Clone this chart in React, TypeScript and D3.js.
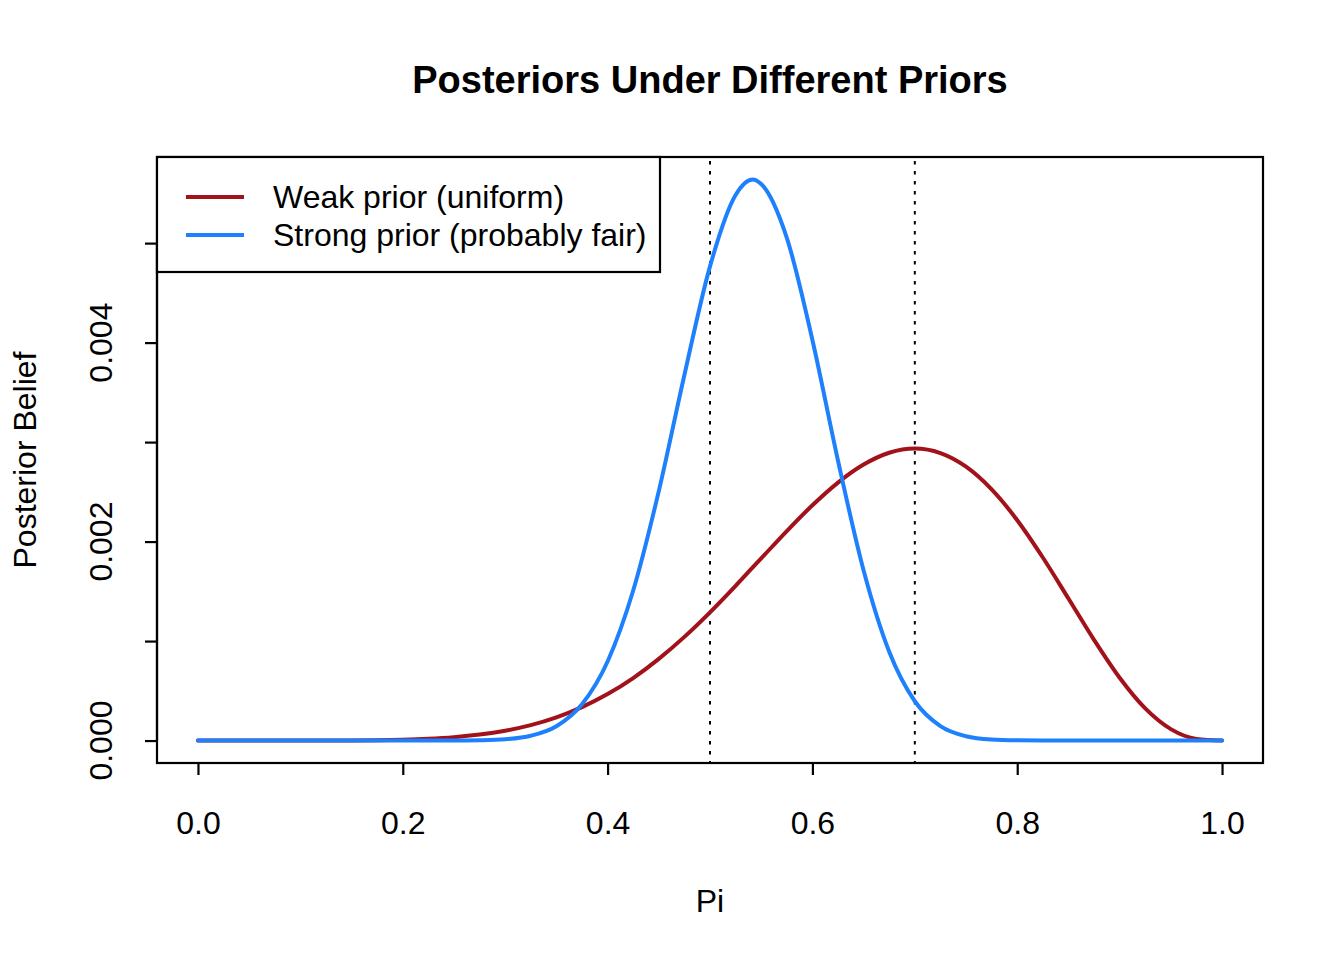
import React, { useEffect, useRef } from 'react';
import * as d3 from 'd3';

// grid of Pi values the posteriors were read at
const piGrid = [
    0, 0.025, 0.05, 0.075, 0.1, 0.125, 0.15, 0.175, 0.2, 0.225, 0.25, 0.275, 0.3, 0.325, 0.35,
    0.375, 0.4, 0.425, 0.45, 0.475, 0.5, 0.525, 0.5417, 0.55, 0.575, 0.6, 0.625, 0.65, 0.675,
    0.7, 0.725, 0.75, 0.775, 0.8, 0.825, 0.85, 0.875, 0.9, 0.925, 0.95, 0.975, 1
];

const weakPosterior = [
    0, 0, 0, 0, 0.0000001, 0.0000004, 0.0000014, 0.0000037, 0.0000087, 0.000018, 0.000034, 0.00006,
    0.000099, 0.000155, 0.000233, 0.000336, 0.000467, 0.000628, 0.000821, 0.001042, 0.001289,
    0.001555, 0.00174, 0.001831, 0.002106, 0.002365, 0.002593, 0.002774, 0.002893, 0.002935,
    0.00289, 0.002753, 0.002525, 0.002215, 0.00184, 0.001428, 0.001012, 0.000631, 0.000323,
    0.000115, 0.000017, 0
];

const strongPosterior = [
    0, 0, 0, 0, 0, 0, 0, 0, 0, 0, 0, 0.000003, 0.000013, 0.000048, 0.000144, 0.000365, 0.000795,
    0.001508, 0.002507, 0.003675, 0.004766, 0.005484, 0.00564, 0.005594, 0.005053, 0.004026,
    0.002813, 0.00171, 0.000893, 0.000395, 0.000145, 0.000043, 0.00001, 0.000002, 0, 0, 0, 0, 0,
    0, 0, 0
];

const xTicks = [0, 0.2, 0.4, 0.6, 0.8, 1.0];
const yTicks = [0, 0.001, 0.002, 0.003, 0.004, 0.005];
const yLabelled = [0, 0.002, 0.004];
const guideLines = [0.5, 0.7];

const seriesNames = ['Weak prior (uniform)', 'Strong prior (probably fair)'];
const seriesColors = ['#A1121B', '#1E80FC'];

const PosteriorChart: React.FC = () => {
    const chartRef = useRef<SVGSVGElement>(null);

    useEffect(() => {
        const svg = d3.select(chartRef.current);
        svg.selectAll("*").remove();

        const font = "'Liberation Sans', Arial, Helvetica, sans-serif";
        const box = { left: 157, right: 1263, top: 157, bottom: 763 };

        // R style 4% padding on both axes
        const yMax = d3.max(strongPosterior) as number;
        const x = d3.scaleLinear().domain([-0.04, 1.04]).range([box.left, box.right]);
        const y = d3.scaleLinear().domain([-0.04 * yMax, 1.04 * yMax]).range([box.bottom, box.top]);

        svg.append("text")
            .attr("x", (box.left + box.right) / 2)
            .attr("y", 93)
            .attr("text-anchor", "middle")
            .attr("font-family", font)
            .attr("font-weight", "bold")
            .attr("font-size", 38)
            .text("Posteriors Under Different Priors");

        // dotted reference lines
        svg.append("g")
            .selectAll("line")
            .data(guideLines)
            .enter().append("line")
            .attr("x1", d => x(d))
            .attr("x2", d => x(d))
            .attr("y1", box.top + 4)
            .attr("y2", box.bottom)
            .attr("stroke", "#000")
            .attr("stroke-width", 2)
            .attr("stroke-dasharray", "3.5,6.5");

        const line = d3.line<number>()
            .x((_, i) => x(piGrid[i]))
            .y(d => y(d))
            .curve(d3.curveMonotoneX);

        [weakPosterior, strongPosterior].forEach((values, i) => {
            svg.append("path")
                .attr("d", line(values))
                .attr("fill", "none")
                .attr("stroke", seriesColors[i])
                .attr("stroke-width", 4)
                .attr("stroke-linecap", "round")
                .attr("stroke-linejoin", "round");
        });

        // plot box
        svg.append("rect")
            .attr("x", box.left)
            .attr("y", box.top)
            .attr("width", box.right - box.left)
            .attr("height", box.bottom - box.top)
            .attr("fill", "none")
            .attr("stroke", "#000")
            .attr("stroke-width", 2.2);

        // x axis
        const xAxis = svg.append("g").attr("transform", `translate(0,${box.bottom})`)
            .call(d3.axisBottom(x).tickValues(xTicks).tickSize(12).tickPadding(36)
                .tickFormat(d => d3.format(".1f")(d as number)));
        xAxis.select(".domain").attr("d", `M${x(0)},0H${x(1)}`).attr("stroke-width", 2.2);
        xAxis.selectAll(".tick line").attr("stroke-width", 2.2);
        xAxis.selectAll("text").attr("font-family", font).attr("font-size", 32).attr("fill", "#000");

        // y axis
        const yAxis = svg.append("g").attr("transform", `translate(${box.left},0)`)
            .call(d3.axisLeft(y).tickValues(yTicks).tickSize(12)
                .tickFormat(() => ""));
        yAxis.select(".domain").attr("d", `M0,${y(0)}V${y(0.005)}`).attr("stroke-width", 2.2);
        yAxis.selectAll(".tick line").attr("stroke-width", 2.2);

        svg.append("g")
            .selectAll("text")
            .data(yLabelled)
            .enter().append("text")
            .attr("transform", d => `translate(112,${y(d)}) rotate(-90)`)
            .attr("text-anchor", "middle")
            .attr("font-family", font)
            .attr("font-size", 32)
            .text(d => d3.format(".3f")(d));

        svg.append("text")
            .attr("x", x(0.5))
            .attr("y", 912)
            .attr("text-anchor", "middle")
            .attr("font-family", font)
            .attr("font-size", 32)
            .text("Pi");

        svg.append("text")
            .attr("transform", `translate(36,${(box.top + box.bottom) / 2}) rotate(-90)`)
            .attr("text-anchor", "middle")
            .attr("font-family", font)
            .attr("font-size", 32)
            .text("Posterior Belief");

        // legend
        const legend = svg.append("g");
        legend.append("rect")
            .attr("x", box.left)
            .attr("y", box.top)
            .attr("width", 503)
            .attr("height", 115)
            .attr("fill", "#fff")
            .attr("stroke", "#000")
            .attr("stroke-width", 2.2);

        seriesNames.forEach((name, i) => {
            const cy = 197 + i * 38;
            legend.append("line")
                .attr("x1", 186)
                .attr("x2", 244)
                .attr("y1", cy)
                .attr("y2", cy)
                .attr("stroke", seriesColors[i])
                .attr("stroke-width", 4);
            legend.append("text")
                .attr("x", 273)
                .attr("y", cy + 11)
                .attr("font-family", font)
                .attr("font-size", 32)
                .text(name);
        });
    }, []);

    return <svg ref={chartRef} width="1344" height="960"
        style={{ position: 'absolute', left: 0, top: 0, background: '#fff' }}></svg>;
};

export default function App() {
    return <PosteriorChart />;
}
